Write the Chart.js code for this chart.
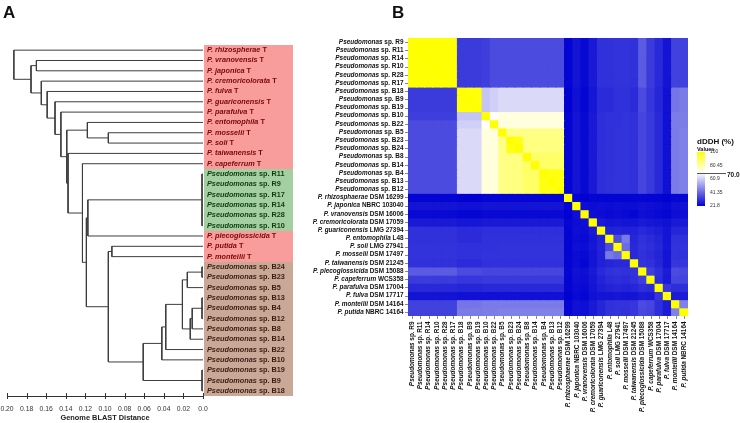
<!DOCTYPE html>
<html>
<head>
<meta charset="utf-8">
<script src="https://cdn.jsdelivr.net/npm/chart.js@4.4.1/dist/chart.umd.min.js"></script>
<style>
  html, body { margin: 0; padding: 0; background: #fff; }
  #wrap { position: relative; width: 740px; height: 423px; overflow: hidden; }
  #wrap canvas { position: absolute; left: 0; top: 0; }
  .panel { position: absolute; font: bold 17px "Liberation Sans", Arial, sans-serif; color: #111; }
</style>
</head>
<body>
<div id="wrap">
  <canvas id="tree" width="740" height="423"></canvas>
  <canvas id="heat" width="740" height="423"></canvas>
  <div class="panel" style="left:3px; top:3px;">A</div>
  <div class="panel" style="left:392px; top:3px;">B</div>
</div>
<script>
const FONT = '"Liberation Sans", Arial, sans-serif';

// ---- panel A : dendrogram ----
const treeLeaves = [
  'P. rhizospherae T', 'P. vranovensis T', 'P. japonica T', 'P. cremoricolorata T',
  'P. fulva T', 'P. guariconensis T', 'P. parafulva T', 'P. entomophila T',
  'P. mosselii T', 'P. soli T', 'P. taiwanensis T', 'P. capeferrum T',
  'Pseudomonas sp. R11', 'Pseudomonas sp. R9', 'Pseudomonas sp. R17', 'Pseudomonas sp. R14',
  'Pseudomonas sp. R28', 'Pseudomonas sp. R10',
  'P. plecoglossicida T', 'P. putida T', 'P. monteilii T',
  'Pseudomonas sp. B24', 'Pseudomonas sp. B23', 'Pseudomonas sp. B5', 'Pseudomonas sp. B13',
  'Pseudomonas sp. B4', 'Pseudomonas sp. B12', 'Pseudomonas sp. B8', 'Pseudomonas sp. B14',
  'Pseudomonas sp. B22', 'Pseudomonas sp. B10', 'Pseudomonas sp. B19', 'Pseudomonas sp. B9',
  'Pseudomonas sp. B18'
];
const leafGroup = [
  'T','T','T','T','T','T','T','T','T','T','T','T',
  'R','R','R','R','R','R',
  'T','T','T',
  'B','B','B','B','B','B','B','B','B','B','B','B','B'
];
// merges, bottom up: [children, distance]; a number is a leaf, 'nK' is merge K
const treeMerges = [
  [[8, 9], 0.0966],                    // n0
  [[7, 'n0'], 0.118],                  // n1
  [[1, 2], 0.170],                     // n2
  [[12, 13, 14, 15, 16, 17], 0.001],   // n3
  [['n3', 18], 0.1175],                // n4
  [[19, 20], 0.093],                   // n5
  [[21, 22], 0.001],                   // n6
  [['n6', 23], 0.016],                 // n7
  [[24, 25, 26], 0.001],               // n8
  [['n8', 27], 0.011],                 // n9
  [['n9', 28], 0.013],                 // n10
  [['n7', 'n10'], 0.021],              // n11
  [['n11', 29], 0.038],                // n12
  [['n12', 30], 0.042],                // n13
  [[31, 32, 33], 0.001],               // n14
  [['n13', 'n14'], 0.061],             // n15
  [['n5', 'n15'], 0.0966],             // n16
  [['n4', 'n16'], 0.119],              // n17
  [[11, 'n17'], 0.123],                // n18
  [[10, 'n18'], 0.1377],               // n19
  [['n1', 'n19'], 0.139],              // n20
  [[6, 'n20'], 0.145],                 // n21
  [[5, 'n21'], 0.151],                 // n22
  [[4, 'n22'], 0.159],                 // n23
  [[3, 'n23'], 0.165],                 // n24
  [['n2', 'n24'], 0.1755],             // n25
  [[0, 'n25'], 0.193]                  // n26
];
const distTicks = [0.2, 0.18, 0.16, 0.14, 0.12, 0.1, 0.08, 0.06, 0.04, 0.02, 0];
const distTickLabels = ['0.20', '0.18', '0.16', '0.14', '0.12', '0.10', '0.08', '0.06', '0.04', '0.02', '0.0'];

// ---- panel B : dDDH heatmap ----
const heatNames = [
  'Pseudomonas sp. R9', 'Pseudomonas sp. R11', 'Pseudomonas sp. R14', 'Pseudomonas sp. R10',
  'Pseudomonas sp. R28', 'Pseudomonas sp. R17', 'Pseudomonas sp. B18', 'Pseudomonas sp. B9',
  'Pseudomonas sp. B19', 'Pseudomonas sp. B10', 'Pseudomonas sp. B22', 'Pseudomonas sp. B5',
  'Pseudomonas sp. B23', 'Pseudomonas sp. B24', 'Pseudomonas sp. B8', 'Pseudomonas sp. B14',
  'Pseudomonas sp. B4', 'Pseudomonas sp. B13', 'Pseudomonas sp. B12',
  'P. rhizosphaerae DSM 16299', 'P. japonica NBRC 103040', 'P. vranovensis DSM 16006',
  'P. cremoricolorata DSM 17059', 'P. guariconensis LMG 27394', 'P. entomophila L48',
  'P. soli LMG 27941', 'P. mosselii DSM 17497', 'P. taiwanensis DSM 21245',
  'P. plecoglossicida DSM 15088', 'P. capeferrum WCS358', 'P. parafulva DSM 17004',
  'P. fulva DSM 17717', 'P. monteilii DSM 14164', 'P. putida NBRC 14164'
];
const dddh = [
  [100,99.5,99.5,99.5,99.5,99.5, 33,33,33, 33.5, 36, 36,36,36,36,36,36,36,36, 22.5,25.5,23.5,26.5,31,31,31.5,31.5,31,39,33,29.5,25.5,34,34],
  [99.5,100,99.5,99.5,99.5,99.5, 33,33,33, 33.5, 36, 36,36,36,36,36,36,36,36, 22.5,25.5,23.5,26.5,31,31,31.5,31.5,31,39,33,29.5,25.5,34,34],
  [99.5,99.5,100,99.5,99.5,99.5, 33,33,33, 33.5, 36, 36,36,36,36,36,36,36,36, 22.5,25.5,23.5,26.5,31,31,31.5,31.5,31,39,33,29.5,25.5,34,34],
  [99.5,99.5,99.5,100,99.5,99.5, 33,33,33, 33.5, 36, 36,36,36,36,36,36,36,36, 22.5,25.5,23.5,26.5,31,31,31.5,31.5,31,39,33,29.5,25.5,34,34],
  [99.5,99.5,99.5,99.5,100,99.5, 33,33,33, 33.5, 36, 36,36,36,36,36,36,36,36, 22.5,25.5,23.5,26.5,31,31,31.5,31.5,31,39,33,29.5,25.5,34,34],
  [99.5,99.5,99.5,99.5,99.5,100, 33,33,33, 33.5, 36, 36,36,36,36,36,36,36,36, 22.5,25.5,23.5,26.5,31,31,31.5,31.5,31,39,33,29.5,25.5,34,34],
  [33,33,33,33,33,33, 100,99,99, 59, 61, 63,63,63,63,63,63,63,63, 22,25,23,26,30,30,31,31,30,36,32,29,25,44,45],
  [33,33,33,33,33,33, 99,100,99, 59, 61, 63,63,63,63,63,63,63,63, 22,25,23,26,30,30,31,31,30,36,32,29,25,44,45],
  [33,33,33,33,33,33, 99,99,100, 59, 61, 63,63,63,63,63,63,63,63, 22,25,23,26,30,30,31,31,30,36,32,29,25,44,45],
  [33.5,33.5,33.5,33.5,33.5,33.5, 59,59,59, 100, 71, 74,74,74,74,74,74,74,74, 22.5,25.5,23.5,26.5,30.5,31,31,31.5,31,35,32.5,29.5,25,45,45.5],
  [36,36,36,36,36,36, 61,61,61, 71, 100, 74,74,74,74,74,74,74,74, 22.5,25.5,23.5,26.5,30.5,31,31,31.5,31,35,32.5,29.5,25,45,45.5],
  [36,36,36,36,36,36, 63,63,63, 74, 74, 100,84,84,84,84,84,84,84, 22.5,25.5,23.5,26.5,30.5,31,31.5,31.5,31,35,32.5,29.5,25,45,46],
  [36,36,36,36,36,36, 63,63,63, 74, 74, 84,100,98,85,85,85,85,85, 22.5,25.5,23.5,26.5,30.5,31,31.5,31.5,31,35,32.5,29.5,25,45,46],
  [36,36,36,36,36,36, 63,63,63, 74, 74, 84,98,100,85,85,85,85,85, 22.5,25.5,23.5,26.5,30.5,31,31.5,31.5,31,35,32.5,29.5,25,45,46],
  [36,36,36,36,36,36, 63,63,63, 74, 74, 84,85,85,100,88,88,88,88, 22.5,25.5,23.5,26.5,30.5,31,31.5,31.5,31,35,32.5,29.5,25,45,46],
  [36,36,36,36,36,36, 63,63,63, 74, 74, 84,85,85,88,100,88,88,88, 22.5,25.5,23.5,26.5,30.5,31,31.5,31.5,31,35,32.5,29.5,25,45,46],
  [36,36,36,36,36,36, 63,63,63, 74, 74, 84,85,85,88,88,100,98,98, 22.5,25.5,23.5,26.5,30.5,31,31.5,31.5,31,35,32.5,29.5,25,45,46],
  [36,36,36,36,36,36, 63,63,63, 74, 74, 84,85,85,88,88,98,100,98, 22.5,25.5,23.5,26.5,30.5,31,31.5,31.5,31,35,32.5,29.5,25,45,46],
  [36,36,36,36,36,36, 63,63,63, 74, 74, 84,85,85,88,88,98,98,100, 22.5,25.5,23.5,26.5,30.5,31,31.5,31.5,31,35,32.5,29.5,25,45,46],
  [22.5,22.5,22.5,22.5,22.5,22.5, 22,22,22, 22.5, 22.5, 22.5,22.5,22.5,22.5,22.5,22.5,22.5,22.5, 100,22.5,22,23,22.5,22.5,22.5,22.5,22.5,23,22.5,22.5,22,23,23],
  [25.5,25.5,25.5,25.5,25.5,25.5, 25,25,25, 25.5, 25.5, 25.5,25.5,25.5,25.5,25.5,25.5,25.5,25.5, 22.5,100,24.5,24,24.5,24,24.5,24,24,25,24.5,24,23.5,25,25],
  [23.5,23.5,23.5,23.5,23.5,23.5, 23,23,23, 23.5, 23.5, 23.5,23.5,23.5,23.5,23.5,23.5,23.5,23.5, 22,24.5,100,24.5,24,23.5,24,23.5,23,24.5,24,23.5,23,24.5,24.5],
  [26.5,26.5,26.5,26.5,26.5,26.5, 26,26,26, 26.5, 26.5, 26.5,26.5,26.5,26.5,26.5,26.5,26.5,26.5, 23,24,24.5,100,26.5,25.5,26,25.5,25.5,26.5,26,25.5,25,26.5,26.5],
  [31,31,31,31,31,31, 30,30,30, 30.5, 30.5, 30.5,30.5,30.5,30.5,30.5,30.5,30.5,30.5, 22.5,24.5,24,26.5,100,28,28.5,28,28,29.5,28.5,27.5,25.5,29,29],
  [31,31,31,31,31,31, 30,30,30, 31, 31, 31,31,31,31,31,31,31,31, 22.5,24,23.5,25.5,28,100,36,44.5,29,31,30,28.5,25.5,31,31],
  [31.5,31.5,31.5,31.5,31.5,31.5, 31,31,31, 31, 31, 31.5,31.5,31.5,31.5,31.5,31.5,31.5,31.5, 22.5,24.5,24,26,28.5,36,100,42,29.5,31.5,30.5,29,26,31.5,31.5],
  [31.5,31.5,31.5,31.5,31.5,31.5, 31,31,31, 31.5, 31.5, 31.5,31.5,31.5,31.5,31.5,31.5,31.5,31.5, 22.5,24,23.5,25.5,28,44.5,42,100,29.5,31,30,28.5,25.5,31.5,31],
  [31,31,31,31,31,31, 30,30,30, 31, 31, 31,31,31,31,31,31,31,31, 22.5,24,23,25.5,28,29,29.5,29.5,100,31.5,31,29,25.5,32,32],
  [39,39,39,39,39,39, 36,36,36, 35, 35, 35,35,35,35,35,35,35,35, 23,25,24.5,26.5,29.5,31,31.5,31,31.5,100,33.5,30.5,27,36,35.5],
  [33,33,33,33,33,33, 32,32,32, 32.5, 32.5, 32.5,32.5,32.5,32.5,32.5,32.5,32.5,32.5, 22.5,24.5,24,26,28.5,30,30.5,30,31,33.5,100,30,26.5,35,34.5],
  [29.5,29.5,29.5,29.5,29.5,29.5, 29,29,29, 29.5, 29.5, 29.5,29.5,29.5,29.5,29.5,29.5,29.5,29.5, 22.5,24,23.5,25.5,27.5,28.5,29,28.5,29,30.5,30,100,32,30.5,30.5],
  [25.5,25.5,25.5,25.5,25.5,25.5, 25,25,25, 25, 25, 25,25,25,25,25,25,25,25, 22,23.5,23,25,25.5,25.5,26,25.5,25.5,27,26.5,32,100,27,27],
  [34,34,34,34,34,34, 44,44,44, 45, 45, 45,45,45,45,45,45,45,45, 23,25,24.5,26.5,29,31,31.5,31.5,32,36,35,30.5,27,100,46],
  [34,34,34,34,34,34, 45,45,45, 45.5, 45.5, 46,46,46,46,46,46,46,46, 23,25,24.5,26.5,29,31,31.5,31,32,35.5,34.5,30.5,27,46,100]
];
const legendTicks = [100, 80.45, 60.9, 41.35, 21.8];
const dddhThreshold = 70.0;

// ---- helpers ----
function childPos(c, nodeY, nodeH) {
  if (typeof c === 'number') return { y: c, h: 0 };
  const k = +c.slice(1);
  return { y: nodeY[k], h: nodeH[k] };
}

function treeSegments() {
  const nodeY = [], nodeH = [], pts = [];
  treeMerges.forEach(([kids, h], k) => {
    const pos = kids.map(c => childPos(c, nodeY, nodeH));
    const ys = pos.map(p => p.y);
    const lo = Math.min(...ys), hi = Math.max(...ys);
    nodeY[k] = (lo + hi) / 2;
    nodeH[k] = h;
    pts.push({ x: h, y: lo }, { x: h, y: hi }, { x: null, y: null });
    pos.forEach(p => pts.push({ x: h, y: p.y }, { x: p.h, y: p.y }, { x: null, y: null }));
  });
  return pts;
}

function splitName(s) {
  if (s.startsWith('Pseudomonas')) return ['Pseudomonas', s.slice(11)];
  const i = s.indexOf(' ', 3);
  return [s.slice(0, i), s.slice(i)];
}

function drawName(ctx, name, x, y, size, color, align) {
  const [ital, rest] = splitName(name);
  const fi = 'italic bold ' + size + 'px ' + FONT;
  const fn = 'bold ' + size + 'px ' + FONT;
  ctx.font = fi;
  const wi = ctx.measureText(ital).width;
  ctx.font = fn;
  const wr = ctx.measureText(rest).width;
  const sx = align === 'right' ? x - wi - wr : x;
  ctx.fillStyle = color;
  ctx.textAlign = 'left';
  ctx.textBaseline = 'middle';
  ctx.font = fi;
  ctx.fillText(ital, sx, y);
  ctx.font = fn;
  ctx.fillText(rest, sx + wi, y);
}

const lowRGB = [0, 0, 210], midRGB = [255, 255, 255], highRGB = [255, 255, 0];
function ddhColor(v) {
  let a, b, t;
  if (v <= dddhThreshold) {
    a = lowRGB; b = midRGB; t = (v - 21.8) / (dddhThreshold - 21.8);
  } else {
    a = midRGB; b = highRGB; t = (v - dddhThreshold) / (100 - dddhThreshold);
  }
  t = Math.max(0, Math.min(1, t));
  const c = a.map((ai, i) => Math.round(ai + (b[i] - ai) * t));
  return 'rgb(' + c.join(',') + ')';
}

// ---- panel A chart ----
const leafFill = { T: '#F89C9C', R: '#A3CFA3', B: '#C9A898' };
const leafInk = { T: '#7a0808', R: '#0d3d0d', B: '#3a1c10' };

const leafBoxes = {
  id: 'leafBoxes',
  beforeDatasetsDraw(chart) {
    const { ctx, chartArea, scales: { y } } = chart;
    const x0 = Math.round(chartArea.right) + 1, x1 = 293;
    treeLeaves.forEach((name, i) => {
      const top = Math.round(y.getPixelForValue(i - 0.5));
      const bot = Math.round(y.getPixelForValue(i + 0.5));
      ctx.fillStyle = leafFill[leafGroup[i]];
      ctx.fillRect(x0, top, x1 - x0, bot - top);
    });
  },
  afterDraw(chart) {
    const { ctx, chartArea, scales: { x, y } } = chart;
    ctx.save();
    treeLeaves.forEach((name, i) => {
      drawName(ctx, name, chartArea.right + 4, y.getPixelForValue(i), 7.3, leafInk[leafGroup[i]], 'left');
    });
    // axis ticks crossing the line
    ctx.strokeStyle = '#333';
    ctx.lineWidth = 1;
    distTicks.forEach(v => {
      const px = Math.round(x.getPixelForValue(v)) + 0.5;
      ctx.beginPath();
      ctx.moveTo(px, chartArea.bottom - 3);
      ctx.lineTo(px, chartArea.bottom + 3);
      ctx.stroke();
    });
    ctx.restore();
  }
};

new Chart(document.getElementById('tree'), {
  type: 'scatter',
  data: {
    datasets: [{
      data: treeSegments(),
      showLine: true,
      spanGaps: false,
      borderColor: '#3d3d3d',
      borderWidth: 1,
      pointRadius: 0,
    }],
  },
  options: {
    responsive: false,
    animation: false,
    layout: { padding: { left: 7, right: 537, top: 45, bottom: 0 } },
    scales: {
      x: {
        type: 'linear',
        reverse: true,
        min: 0,
        max: 0.2,
        afterFit: s => { s.height = 27; s.paddingLeft = 0; s.paddingRight = 0; },
        afterBuildTicks: s => { s.ticks = distTicks.map(v => ({ value: v })); },
        grid: { display: false, drawTicks: false },
        border: { color: '#333', width: 1 },
        ticks: {
          padding: 9,
          color: '#333',
          font: { size: 6.8, family: FONT },
          maxRotation: 0,
          autoSkip: false,
          callback: (v, i) => distTickLabels[i],
        },
        title: {
          display: true,
          text: 'Genome BLAST Distance',
          color: '#222',
          font: { size: 7.4, weight: 'bold', family: FONT },
          padding: { top: 0, bottom: 1 },
        },
      },
      y: { type: 'linear', display: false, reverse: true, min: -0.5, max: 33.5 },
    },
    plugins: {
      legend: { display: false },
      tooltip: { enabled: false },
    },
  },
  plugins: [leafBoxes],
});

// ---- panel B chart ----
const heatLabels = {
  id: 'heatLabels',
  afterDraw(chart) {
    const { ctx, chartArea, scales: { x, y } } = chart;
    ctx.save();
    ctx.strokeStyle = '#888';
    ctx.lineWidth = 1;
    heatNames.forEach((name, r) => {
      const py = y.getPixelForValue(r + 0.5);
      ctx.beginPath();
      ctx.moveTo(chartArea.left - 3, Math.round(py) + 0.5);
      ctx.lineTo(chartArea.left, Math.round(py) + 0.5);
      ctx.stroke();
      drawName(ctx, name, chartArea.left - 4.5, py, 6.4, '#111', 'right');
    });
    heatNames.forEach((name, c) => {
      const px = x.getPixelForValue(c);
      ctx.beginPath();
      ctx.moveTo(Math.round(px) + 0.5, chartArea.bottom);
      ctx.lineTo(Math.round(px) + 0.5, chartArea.bottom + 3);
      ctx.stroke();
      ctx.save();
      ctx.translate(px, chartArea.bottom + 5.5);
      ctx.rotate(-Math.PI / 2);
      drawName(ctx, name, 0, 0, 6.4, '#111', 'right');
      ctx.restore();
    });

    // colour key
    const kx = 697, kw = 8, kTop = 152, kBot = 206;
    const keyY = v => kTop + (100 - v) / (100 - 21.8) * (kBot - kTop);
    for (let py = kTop; py < kBot; py++) {
      const v = 100 - (py + 0.5 - kTop) / (kBot - kTop) * (100 - 21.8);
      ctx.fillStyle = ddhColor(v);
      ctx.fillRect(kx, py, kw, 1);
    }
    ctx.fillStyle = '#111';
    ctx.textAlign = 'left';
    ctx.textBaseline = 'middle';
    ctx.font = 'bold 8px ' + FONT;
    ctx.fillText('dDDH (%)', kx, 142);
    ctx.font = 'bold 5.5px ' + FONT;
    ctx.fillText('Values', kx, 149);
    ctx.font = '5px ' + FONT;
    ctx.fillStyle = '#333';
    legendTicks.forEach(v => ctx.fillText(String(v), kx + 13, keyY(v)));
    const ty = Math.round(keyY(dddhThreshold)) + 0.5;
    ctx.strokeStyle = '#555';
    ctx.beginPath();
    ctx.moveTo(kx, ty);
    ctx.lineTo(kx + 29, ty);
    ctx.stroke();
    ctx.fillStyle = '#111';
    ctx.font = 'bold 6.5px ' + FONT;
    ctx.fillText(dddhThreshold.toFixed(1), kx + 30, ty + 1.5);
    ctx.restore();
  }
};

new Chart(document.getElementById('heat'), {
  type: 'bar',
  data: {
    labels: heatNames,
    datasets: heatNames.map((name, r) => ({
      label: name,
      data: heatNames.map(() => [r, r + 1]),
      backgroundColor: dddh[r].map(ddhColor),
      grouped: false,
      barPercentage: 1,
      categoryPercentage: 1,
      borderWidth: 0,
      inflateAmount: 0.5,
    })),
  },
  options: {
    responsive: false,
    animation: false,
    layout: { padding: { left: 408, right: 52, top: 38, bottom: 107 } },
    scales: {
      x: { display: false },
      y: { display: false, min: 0, max: 34, reverse: true },
    },
    plugins: {
      legend: { display: false },
      tooltip: { enabled: false },
    },
  },
  plugins: [heatLabels],
});
</script>
</body>
</html>
